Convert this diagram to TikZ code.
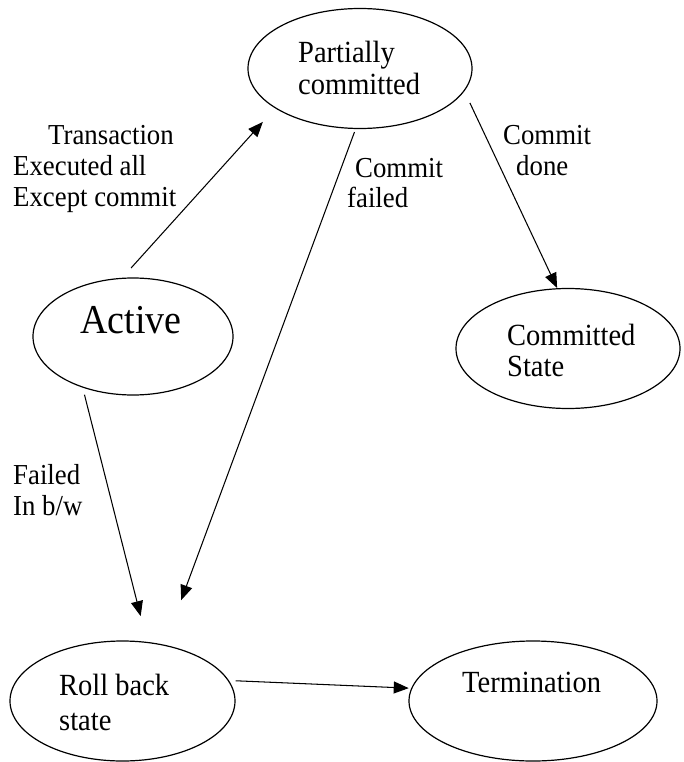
\documentclass[tikz,border=0pt]{standalone}
\usepackage{fontspec}
\usepackage{graphicx}
\setmainfont{Liberation Serif}
\usetikzlibrary{shapes.geometric,arrows.meta}
% slightly tall lettering for the state and transition names
\newcommand{\tallbox}[1]{\scalebox{1}[1.08]{#1}}
\begin{document}
\begin{tikzpicture}[x=1pt,y=-1pt,
  state/.style={draw=black, line width=1.2pt, ellipse, inner sep=0pt, outer sep=0pt},
  stxt/.style={anchor=base west, inner sep=0pt, font=\fontsize{28.5}{29.6}\selectfont},
  lbl/.style={anchor=base west, inner sep=0pt, font=\fontsize{26.8}{28.7}\selectfont},
  arr/.style={line width=1.05pt, -{Triangle[length=15pt,width=12pt]}}]
\useasboundingbox (0,0) rectangle (683,762);
\fill[white] (0,0) rectangle (683,762);

% states
\node[state, minimum width=224pt, minimum height=120pt] (pc) at (360,68.5) {};
\node[state, minimum width=200pt, minimum height=117pt] (act) at (133,336.5) {};
\node[state, minimum width=224pt, minimum height=120pt] (cs) at (568,348.5) {};
\node[state, minimum width=225pt, minimum height=120pt] (rb) at (122.5,701) {};
\node[state, minimum width=248pt, minimum height=120pt] (term) at (533,701) {};

% state names
\node[stxt] (pct) at (298,63) {\tallbox{\vtop{\hbox{Partially}\hbox{committed}}}};
\node[anchor=base west, inner sep=0pt, font=\fontsize{38}{40}\selectfont] (actt) at (80,333) {\tallbox{Active}};
\node[stxt] (cst) at (507,345) {\tallbox{\vtop{\hbox{Committed}\hbox{State}}}};
\node[stxt, font=\fontsize{28.5}{32.4}\selectfont] (rbt) at (59,695) {\tallbox{\vtop{\hbox{Roll back}\hbox{state}}}};
\node[stxt] (termt) at (462,692) {\tallbox{Termination}};

% transitions
\draw[arr, shorten <=14pt, shorten >=18.9pt] (act.101.1) -- (pc.205.1);
\draw[arr, shorten <=3.8pt, shorten >=48.2pt] (pc.266.5) -- (rb.53.2);
\draw[arr, shorten <=13.6pt, shorten >=0.85pt] (pc.348) -- (cs.100.1);
\draw[arr, shorten <=8pt, shorten >=27.2pt] (act.225.5) -- (rb.67.7);
\draw[arr, shorten <=7.4pt, shorten >=3.1pt] (rb.11.5) -- (term.174.9);

% transition labels
\node[lbl] (ltr) at (13,145) {\tallbox{\vtop{\hbox{\hspace*{35pt}Transaction}\hbox{Executed all}\hbox{Except commit}}}};
\node[lbl] (lcf) at (347,177) {\tallbox{\vtop{\hbox{\hspace*{8pt}Commit}\hbox{failed}}}};
\node[lbl] (lcd) at (503,145) {\tallbox{\vtop{\hbox{Commit}\hbox{\hspace*{13pt}done}}}};
\node[lbl] (lfb) at (13,484) {\tallbox{\vtop{\hbox{Failed}\hbox{In b/w}}}};
\end{tikzpicture}
\end{document}
